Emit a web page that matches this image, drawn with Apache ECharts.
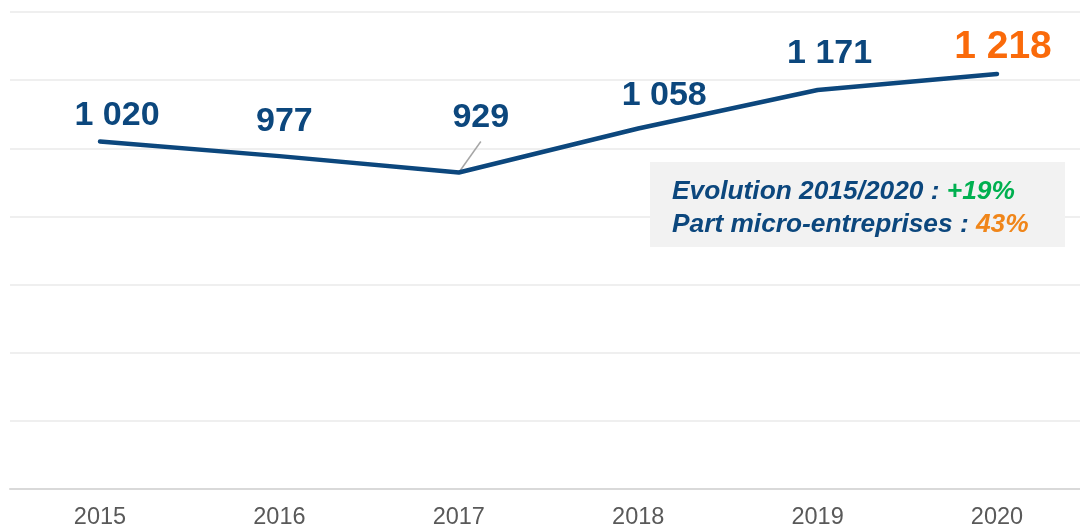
<!DOCTYPE html>
<html>
<head>
<meta charset="utf-8">
<script src="https://cdn.jsdelivr.net/npm/echarts@6/dist/echarts.min.js"></script>
<style>
  html, body { margin: 0; padding: 0; background: #fff; }
  #main { width: 1080px; height: 527px; }
</style>
</head>
<body>
<div id="main"></div>
<script>
var years = ['2015', '2016', '2017', '2018', '2019', '2020'];
var values = [1020, 977, 929, 1058, 1171, 1218];
// label offsets from each point (text centre)
var labelOffsets = [[17, -26], [5, -34], [22, -55], [26, -33], [12, -36], [6, -27]];
var noteLines = [
    { text: 'Evolution 2015/2020 : ', value: '+19%', color: '#00b050' },
    { text: 'Part micro-entreprises : ', value: '43%', color: '#f0861a' }
];

var blue = '#0c477d';
var orange = '#fa6a0a';
var font = '"Liberation Sans", Arial, sans-serif';

var myChart = echarts.init(document.getElementById('main'));

function fmt(v) {
    return String(v).replace(/\B(?=(\d{3})+(?!\d))/g, ' ');
}

var seriesData = values.map(function (v, i) {
    var last = i === values.length - 1;
    return {
        value: v,
        label: {
            offset: labelOffsets[i],
            color: last ? orange : blue,
            fontSize: last ? 39 : 34
        }
    };
});

var option = {
    animation: false,
    grid: [
        // background grid: gridlines + axis line across full width
        { left: 10, right: 0, top: 12, bottom: 38, outerBoundsMode: 'none' },
        // data grid: first/last category centred like the reference
        { left: 100, right: 83, top: 12, bottom: 38, outerBoundsMode: 'none' }
    ],
    xAxis: [
        {
            gridIndex: 0,
            type: 'category',
            data: years,
            axisLine: { lineStyle: { color: '#d9d9d9', width: 2 } },
            axisTick: { show: false },
            axisLabel: { show: false }
        },
        {
            gridIndex: 1,
            type: 'category',
            data: years,
            boundaryGap: false,
            axisLine: { show: false },
            axisTick: { show: false },
            axisLabel: { color: '#595959', fontSize: 23.5, fontFamily: font, margin: 17 }
        }
    ],
    yAxis: [
        {
            gridIndex: 0,
            type: 'value',
            min: 0,
            max: 1400,
            interval: 200,
            axisLabel: { show: false },
            axisLine: { show: false },
            axisTick: { show: false },
            splitLine: { lineStyle: { color: '#efefef', width: 2 } }
        },
        {
            gridIndex: 1,
            type: 'value',
            min: 0,
            max: 1400,
            interval: 200,
            axisLabel: { show: false },
            axisLine: { show: false },
            axisTick: { show: false },
            splitLine: { show: false }
        }
    ],
    series: [{
        type: 'line',
        xAxisIndex: 1,
        yAxisIndex: 1,
        data: seriesData,
        symbol: 'circle',
        symbolSize: 2,
        showSymbol: true,
        lineStyle: { color: blue, width: 4.5, cap: 'round', join: 'round' },
        itemStyle: { color: blue },
        label: {
            show: true,
            position: 'inside',
            align: 'center',
            verticalAlign: 'middle',
            fontFamily: font,
            fontWeight: 'bold',
            formatter: function (p) { return fmt(p.value); }
        },
        emphasis: { disabled: true }
    }]
};

myChart.setOption(option);

// leader line for 2017 label + note box
var p2017 = myChart.convertToPixel({ gridIndex: 1 }, ['2017', values[2]]);
var richText = noteLines.map(function (l, i) {
    return '{t|' + l.text + '}{v' + i + '|' + l.value + '}';
}).join('\n');
var rich = { t: { fill: blue } };
noteLines.forEach(function (l, i) { rich['v' + i] = { fill: l.color }; });

myChart.setOption({
    graphic: [
        {
            type: 'line',
            shape: { x1: p2017[0], y1: p2017[1], x2: p2017[0] + 22, y2: p2017[1] - 31 },
            style: { stroke: '#a6a6a6', lineWidth: 1.5 },
            z: 1
        },
        {
            type: 'rect',
            left: 650,
            top: 162,
            shape: { width: 415, height: 85 },
            style: { fill: '#f2f2f2' },
            z: 10
        },
        {
            type: 'text',
            left: 672,
            top: 175,
            style: {
                text: richText,
                fill: blue,
                lineHeight: 33,
                rich: rich,
                fontStyle: 'italic',
                fontWeight: 'bold',
                fontSize: 26.3,
                fontFamily: font
            },
            z: 11
        }
    ]
});
</script>
</body>
</html>
